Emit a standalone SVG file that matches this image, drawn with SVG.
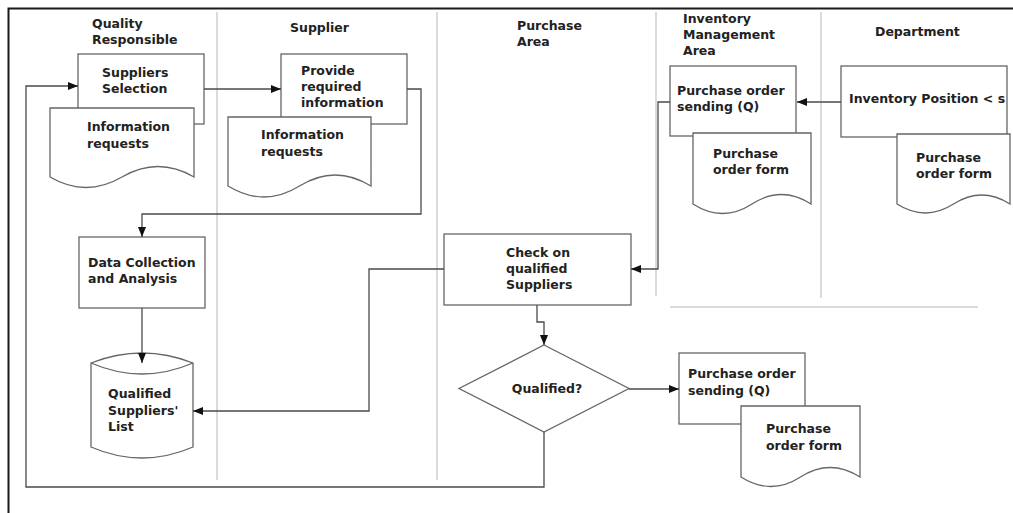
<svg xmlns="http://www.w3.org/2000/svg" width="1013" height="513" viewBox="0 0 1013 513">
  <style>
    .frame { fill: none; stroke: #1a1a1a; stroke-width: 2; }
    .lane { fill: none; stroke: #cfcfcf; stroke-width: 1.5; }
    .shape { fill: #ffffff; stroke: #666666; stroke-width: 1.3; }
    .conn { fill: none; stroke: #4a4a4a; stroke-width: 1.3; }
    text { font-family: "DejaVu Sans", "Liberation Sans", sans-serif; font-weight: bold; font-size: 12.5px; fill: #222222; }
  </style>
  <defs>
    <marker id="arrow" viewBox="0 0 10 8" refX="10" refY="4" markerWidth="10" markerHeight="8" markerUnits="userSpaceOnUse" orient="auto">
      <path d="M0,0 L10,4 L0,8 Z" fill="#111111"/>
    </marker>
  </defs>

  <rect width="1013" height="513" fill="#ffffff"/>

  <!-- outer frame (top and left edges) -->
  <path class="frame" d="M8.5,513 V8.5 H1013"/>

  <!-- swimlane dividers -->
  <g id="lanes">
    <line class="lane" x1="217" y1="12" x2="217" y2="480"/>
    <line class="lane" x1="437" y1="12" x2="437" y2="480"/>
    <line class="lane" x1="656" y1="12" x2="656" y2="296"/>
    <line class="lane" x1="821" y1="12" x2="821" y2="298"/>
    <line class="lane" x1="670" y1="307" x2="978" y2="307"/>
  </g>

  <!-- lane headers -->
  <g id="headers">
    <text x="92" y="28">Quality</text>
    <text x="92" y="44">Responsible</text>
    <text x="290" y="32">Supplier</text>
    <text x="517" y="30">Purchase</text>
    <text x="517" y="46">Area</text>
    <text x="683" y="23">Inventory</text>
    <text x="683" y="39">Management</text>
    <text x="683" y="55">Area</text>
    <text x="875" y="36">Department</text>
  </g>

  <!-- Quality Responsible lane -->
  <g id="suppliers-selection">
    <rect class="shape" x="78" y="54" width="126" height="70"/>
    <text x="102" y="77">Suppliers</text>
    <text x="102" y="93">Selection</text>
  </g>
  <g id="qr-information-requests">
    <path class="shape" d="M50,108 H194 V177 Q158,156 122,177 T50,177 Z"/>
    <text x="87" y="131">Information</text>
    <text x="87" y="148">requests</text>
  </g>
  <g id="data-collection">
    <rect class="shape" x="79" y="237" width="126" height="71"/>
    <text x="88" y="267">Data Collection</text>
    <text x="88" y="283">and Analysis</text>
  </g>
  <g id="qualified-suppliers-list">
    <path class="shape" d="M91,363 Q142,343 193,363 V447 Q142,469 91,447 Z"/>
    <path class="shape" d="M91,363 Q142,385 193,363" fill="none"/>
    <text x="108" y="398">Qualified</text>
    <text x="108" y="415">Suppliers'</text>
    <text x="108" y="431">List</text>
  </g>

  <!-- Supplier lane -->
  <g id="provide-information">
    <rect class="shape" x="281" y="54" width="126" height="70"/>
    <text x="301" y="75">Provide</text>
    <text x="301" y="91">required</text>
    <text x="301" y="107">information</text>
  </g>
  <g id="supplier-information-requests">
    <path class="shape" d="M228,117 H371 V186 Q335,164 299.5,186 T228,186 Z"/>
    <text x="261" y="139">Information</text>
    <text x="261" y="156">requests</text>
  </g>

  <!-- Purchase Area lane -->
  <g id="check-qualified">
    <rect class="shape" x="444" y="234" width="187" height="71"/>
    <text x="506" y="257">Check on</text>
    <text x="506" y="273">qualified</text>
    <text x="506" y="289">Suppliers</text>
  </g>
  <g id="qualified-decision">
    <path class="shape" d="M544,345 L629,388.5 L544,432 L459,388.5 Z"/>
    <text x="547" y="393" text-anchor="middle">Qualified?</text>
  </g>
  <g id="purchase-order-sending-2">
    <rect class="shape" x="679" y="353" width="126" height="71"/>
    <text x="688" y="378">Purchase order</text>
    <text x="688" y="395">sending (Q)</text>
  </g>
  <g id="purchase-order-form-2">
    <path class="shape" d="M741,406 H860 V477 Q830,458 800.5,477 T741,477 Z"/>
    <text x="766" y="433">Purchase</text>
    <text x="766" y="450">order form</text>
  </g>

  <!-- Inventory Management Area lane -->
  <g id="purchase-order-sending-1">
    <rect class="shape" x="670" y="66" width="126" height="70"/>
    <text x="677" y="95">Purchase order</text>
    <text x="677" y="111">sending (Q)</text>
  </g>
  <g id="purchase-order-form-1">
    <path class="shape" d="M693,133 H811 V204 Q781.5,185 752,204 T693,204 Z"/>
    <text x="713" y="158">Purchase</text>
    <text x="713" y="174">order form</text>
  </g>

  <!-- Department lane -->
  <g id="inventory-position">
    <rect class="shape" x="841" y="66" width="166" height="71"/>
    <text x="849" y="103">Inventory Position &lt; s</text>
  </g>
  <g id="purchase-order-form-dept">
    <path class="shape" d="M897,134 H1010 V204 Q981.75,186 953.5,204 T897,204 Z"/>
    <text x="916" y="162">Purchase</text>
    <text x="916" y="178">order form</text>
  </g>

  <!-- connectors, drawn last so arrowheads sit on top of shapes -->
  <g id="connectors">
    <path class="conn" d="M204,89 H281" marker-end="url(#arrow)"/>
    <path class="conn" d="M407,89 H421 V214 H142 V237" marker-end="url(#arrow)"/>
    <path class="conn" d="M142,308 V363" marker-end="url(#arrow)"/>
    <path class="conn" d="M444,269 H369 V411 H193" marker-end="url(#arrow)"/>
    <path class="conn" d="M841,102 H797" marker-end="url(#arrow)"/>
    <path class="conn" d="M670,102 H658 V269 H631" marker-end="url(#arrow)"/>
    <path class="conn" d="M537,305 V322 H544 V345" marker-end="url(#arrow)"/>
    <path class="conn" d="M629,389 H679" marker-end="url(#arrow)"/>
    <path class="conn" d="M544,432 V487 H26 V86 H78" marker-end="url(#arrow)"/>
  </g>
</svg>
